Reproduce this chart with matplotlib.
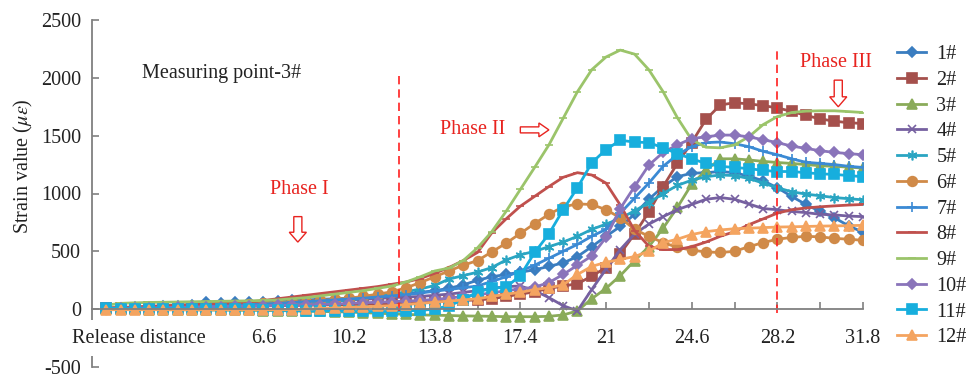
import numpy as np
import matplotlib
matplotlib.use('Agg')
import matplotlib.pyplot as plt
from matplotlib.patches import FancyArrow

plt.rcParams['font.family'] = ['Liberation Serif', 'DejaVu Serif']
plt.rcParams['mathtext.fontset'] = 'stix'
plt.rcParams['axes.unicode_minus'] = False

# release distance, one reading every 0.6
distance = np.round(np.arange(54) * 0.6, 1)

s1 = [0, 10, 15, 20, 25, 30, 40, 60, 55, 65, 60, 65, 70, 75, 80, 85, 90, 95, 100, 110, 120,
      130, 145, 160, 180, 210, 250, 280, 300, 320, 340, 370, 400, 455, 540, 630, 715, 820, 950, 1060, 1145,
      1175, 1180, 1190, 1180, 1150, 1110, 1050, 975, 905, 845, 790, 720, 665]
s2 = [10, 12, 14, 15, 16, 18, 20, 22, 24, 25, 26, 28, 30, 32, 34, 36, 38, 40, 42, 45, 50,
      55, 60, 65, 70, 75, 80, 90, 110, 130, 150, 180, 200, 220, 285, 360, 480, 650, 840, 1060, 1260,
      1440, 1640, 1765, 1785, 1775, 1760, 1740, 1710, 1675, 1645, 1625, 1612, 1605]
s3 = [0, 0, -2, -3, -5, -5, -6, -8, -8, -10, -10, -12, -12, -15, -18, -20, -22, -25, -30, -35, -40,
      -45, -50, -52, -55, -58, -60, -62, -65, -65, -65, -62, -50, -15, 90, 180, 290, 420, 540, 700, 880,
      1080, 1200, 1300, 1300, 1290, 1278, 1268, 1260, 1250, 1240, 1235, 1228, 1220]
s4 = [5, 8, 10, 12, 15, 18, 20, 25, 30, 35, 40, 45, 50, 55, 60, 65, 70, 78, 85, 92, 100,
      105, 110, 120, 130, 145, 160, 180, 195, 200, 160, 100, 30, -15, 170, 345, 515, 650, 735, 800, 860,
      905, 950, 965, 950, 910, 870, 860, 845, 835, 820, 815, 805, 800]
s5 = [0, 2, 4, 6, 8, 10, 12, 15, 18, 22, 25, 30, 35, 40, 50, 60, 70, 80, 95, 110, 130,
      150, 175, 205, 260, 290, 320, 360, 425, 470, 500, 540, 580, 630, 690, 735, 785, 850, 920, 1000, 1070,
      1115, 1145, 1160, 1155, 1130, 1090, 1050, 1015, 995, 980, 965, 955, 945]
s6 = [0, 5, 8, 10, 15, 20, 25, 30, 35, 40, 45, 50, 55, 60, 65, 75, 85, 95, 110, 130, 150,
      185, 230, 280, 330, 380, 420, 495, 570, 655, 740, 820, 885, 910, 905, 860, 790, 690, 630, 575, 535,
      510, 495, 490, 500, 540, 575, 605, 620, 630, 625, 612, 605, 595]
s7 = [5, 8, 10, 12, 15, 18, 22, 26, 30, 35, 40, 45, 50, 58, 65, 72, 80, 88, 95, 105, 115,
      125, 140, 155, 170, 185, 200, 240, 280, 330, 380, 440, 500, 560, 630, 690, 830, 960, 1090, 1235, 1335,
      1405, 1440, 1445, 1430, 1405, 1365, 1335, 1300, 1270, 1260, 1250, 1235, 1225]
s8 = [10, 15, 20, 25, 30, 35, 40, 45, 50, 55, 62, 75, 90, 105, 120, 135, 150, 165, 180, 195, 215,
      235, 265, 310, 360, 420, 490, 660, 780, 890, 975, 1060, 1140, 1180, 1160, 1090, 900, 680, 545, 515, 515,
      540, 580, 630, 670, 730, 780, 830, 860, 875, 885, 893, 900, 905]
s9 = [35, 50, 55, 58, 60, 62, 64, 66, 68, 70, 72, 75, 80, 90, 100, 115, 130, 145, 160, 180, 200,
      235, 280, 330, 355, 420, 530, 670, 845, 1035, 1225, 1420, 1650, 1880, 2070, 2180, 2240, 2205, 2070, 1880, 1655,
      1465, 1400, 1395, 1420, 1490, 1595, 1665, 1700, 1712, 1715, 1715, 1708, 1700]
s10 = [5, 8, 10, 12, 14, 16, 18, 20, 22, 25, 28, 30, 32, 35, 38, 40, 45, 50, 55, 60, 65,
       70, 75, 85, 95, 110, 125, 140, 160, 175, 190, 230, 300, 380, 460, 620, 870, 1060, 1245, 1355, 1420,
       1475, 1490, 1505, 1505, 1490, 1465, 1440, 1410, 1390, 1370, 1355, 1345, 1335]
s11 = [10, 5, 5, 5, 5, 5, 5, 0, 0, 0, 0, -5, -10, -10, -15, -15, -15, -20, -20, -20, -20,
       -15, -10, 0, 30, 80, 150, 180, 190, 290, 490, 650, 860, 1050, 1265, 1380, 1460, 1445, 1440, 1395, 1345,
       1300, 1260, 1235, 1225, 1215, 1200, 1190, 1190, 1180, 1170, 1165, 1155, 1145]
s12 = [-5, -5, -5, -5, -5, -5, -5, -5, -5, -5, -5, -5, -5, -3, 0, 5, 10, 15, 20, 25, 30,
       40, 50, 60, 70, 80, 90, 110, 130, 145, 170, 185, 210, 300, 370, 405, 430, 455, 500, 575, 605,
       645, 670, 685, 695, 700, 705, 710, 712, 715, 718, 720, 722, 725]

series = [s1, s2, s3, s4, s5, s6, s7, s8, s9, s10, s11, s12]
names = ['1#', '2#', '3#', '4#', '5#', '6#', '7#', '8#', '9#', '10#', '11#', '12#']
colors = ['#3A7DC0', '#A5504C', '#8AAB5A', '#7660A0', '#2AA5C2', '#D08A48',
          '#3B8AD4', '#C0504D', '#9BC46A', '#8A74BA', '#17AEDD', '#F4A460']
markers = ['D', 's', '^', 'x', (6, 2, 0), 'o', '+', '_', '_', 'D', 's', '^']
msizes = [5, 6.5, 6.5, 6, 7, 7, 7, 6, 6, 5, 6.5, 6.5]

# labelled ticks every 3.6, plain ticks in between
label_ticks = [6.6, 10.2, 13.8, 17.4, 21, 24.6, 28.2, 31.8]
plain_ticks = [1.2, 3.0, 4.8, 8.4, 12.0, 15.6, 19.2, 22.8, 26.4, 30.0]

fig = plt.figure(figsize=(9.75, 3.8), dpi=100)
ax = fig.add_axes([92/975, 13/380, 771/975, 347/380])

for s, name, c, m, ms in zip(series, names, colors, markers, msizes):
    ax.plot(distance, s, color=c, lw=2, marker=m, markersize=ms,
            markeredgewidth=1.2, label=name)

# phase boundaries
ax.plot([12.3, 12.3], [-20, 2050], color='#FF2020', lw=1.2, ls=(0, (5, 3)))
ax.plot([28.2, 28.2], [-30, 2230], color='#FF2020', lw=1.2, ls=(0, (5, 3)))

red = '#E8231F'
ax.text(8.1, 1035, 'Phase I', color=red, fontsize=14.5, ha='center', va='center')
ax.text(15.4, 1550, 'Phase II', color=red, fontsize=14.5, ha='center', va='center')
ax.text(30.65, 2130, 'Phase III', color=red, fontsize=14.5, ha='center', va='center')
ax.text(1.5, 2040, 'Measuring point-3#', color='#222222', fontsize=14.5, ha='left', va='center')

# hollow arrows
ax.add_patch(FancyArrow(8.05, 800, 0, -220, width=0.34, head_width=0.72, head_length=85,
                        length_includes_head=True, fill=False, ec=red, lw=1))
ax.add_patch(FancyArrow(17.4, 1550, 1.2, 0, width=52, head_width=120, head_length=0.42,
                        length_includes_head=True, fill=False, ec=red, lw=1))
ax.add_patch(FancyArrow(30.76, 1980, 0, -230, width=0.34, head_width=0.72, head_length=86,
                        length_includes_head=True, fill=False, ec=red, lw=1))

# axes
ax.set_xlim(-0.6, 31.8)
ax.set_ylim(-500, 2500)
ax.set_yticks(np.arange(-500, 2501, 500))
ax.set_xticks(label_ticks)
ax.set_xticklabels(['%g' % t for t in label_ticks])
ax.set_xticks(plain_ticks, minor=True)
ax.spines['bottom'].set_position(('data', 0))
ax.spines['top'].set_visible(False)
ax.spines['right'].set_visible(False)
for sp in ['left', 'bottom']:
    ax.spines[sp].set_color('#808080')
    ax.spines[sp].set_linewidth(1.3)
ax.tick_params(axis='both', which='both', direction='in', length=5, color='#808080', width=1.2,
               labelsize=14.5, labelcolor='#222222')
ax.tick_params(axis='x', pad=14)
ax.tick_params(axis='y', pad=8)

ax.set_ylabel(r'Strain value ($\mu\varepsilon$)', fontsize=14.5, color='#222222')
ax.yaxis.set_label_coords(-0.074, 0.58)

ax.text(-1.45, -250, 'Release distance', fontsize=14.5, color='#222222', ha='left', va='center',
        zorder=10, bbox=dict(fc='white', ec='none', pad=6))

leg = fig.legend(loc='upper left', bbox_to_anchor=(897/975, 1 - 45/380), frameon=False,
                 fontsize=14.5, handlelength=1.45, handletextpad=0.5, labelspacing=0.33,
                 borderaxespad=0, borderpad=0)
for t in leg.get_texts():
    t.set_color('#222222')

fig.savefig('out.png', dpi=100)
